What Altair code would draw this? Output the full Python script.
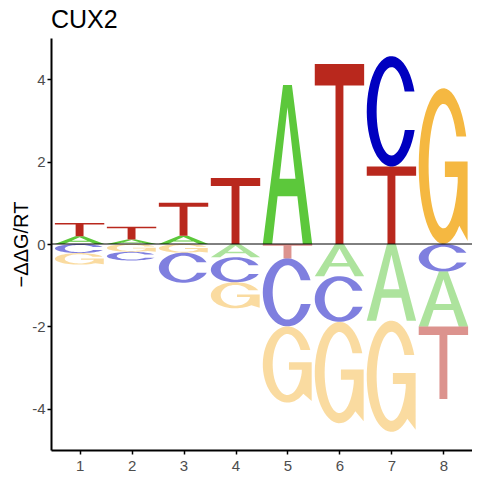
import math
import altair as alt
import pandas as pd

# ---- data ----
positions = [1, 2, 3, 4, 5, 6, 7, 8]
val_A = [0.19, 0.11, 0.20, -0.32, 3.86, -0.78, -1.86, -1.33]
val_C = [-0.22, -0.21, -0.73, -0.61, -1.65, -1.11, 2.68, -0.67]
val_G = [-0.28, -0.19, -0.21, -0.63, -1.85, -2.46, -2.70, 3.78]
val_T = [0.32, 0.31, 0.80, 1.60, -0.35, 4.37, 1.88, -1.76]
letters = ["A", "C", "G", "T"]
letter_colors = ["#5cc83b", "#0000c0", "#f5b841", "#b9281d"]
y_ticks = [-4, -2, 0, 2, 4]
title_text = "CUX2"
y_title = "\u2212\u0394\u0394G/RT"

LETTER_W = 0.95


# ---- glyph outlines in a unit box (shape templates, not data) ----
def arc(cx, cy, rx, ry, a0, a1, n=48):
    pts = []
    for k in range(n + 1):
        a = math.radians(a0 + (a1 - a0) * k / n)
        pts.append((cx + rx * math.cos(a), cy + ry * math.sin(a)))
    return pts


def glyph_T():
    return [(0, 1), (1, 1), (1, 0.88), (0.58, 0.88), (0.58, 0), (0.42, 0),
            (0.42, 0.88), (0, 0.88)]


def glyph_A():
    return [(0, 0), (0.41, 1), (0.59, 1), (1, 0), (0.81, 0), (0.70, 0.30),
            (0.662, 0.41), (0.5, 0.86), (0.338, 0.41), (0.662, 0.41),
            (0.70, 0.30), (0.30, 0.30), (0.19, 0)]


def glyph_C():
    ot = math.degrees(math.asin((0.68 - 0.5) / 0.5))
    ob = 360 + math.degrees(math.asin((0.33 - 0.5) / 0.5))
    it = math.degrees(math.asin((0.68 - 0.5) / 0.4))
    ib = 360 + math.degrees(math.asin((0.33 - 0.5) / 0.4))
    return arc(0.5, 0.5, 0.5, 0.5, ot, ob) + arc(0.5, 0.5, 0.3, 0.4, ib, it)


def glyph_G():
    ot = math.degrees(math.asin((0.69 - 0.5) / 0.5))
    it = math.degrees(math.asin((0.69 - 0.5) / 0.4))
    ib = 360 - math.degrees(math.acos((0.79 - 0.5) / 0.3))
    pts = arc(0.5, 0.5, 0.5, 0.5, ot, 310)
    pts += [(0.99, 0.02), (0.99, 0.53), (0.53, 0.53), (0.53, 0.43), (0.79, 0.43)]
    pts += arc(0.5, 0.5, 0.3, 0.4, ib, it)
    return pts


glyphs = {"A": glyph_A(), "C": glyph_C(), "G": glyph_G(), "T": glyph_T()}
values = {"A": val_A, "C": val_C, "G": val_G, "T": val_T}
colors = dict(zip(letters, letter_colors))

rows = []
gid = 0
for i, p in enumerate(positions):
    entries = [(l, values[l][i]) for l in letters]
    pos = sorted([e for e in entries if e[1] > 0], key=lambda e: e[1])
    neg = sorted([e for e in entries if e[1] < 0], key=lambda e: -e[1])
    stacks = []
    base = 0.0
    for l, v in pos:
        stacks.append((l, base, v, 1.0))
        base += v
    base = 0.0
    for l, v in neg:
        stacks.append((l, base + v, -v, 0.5))
        base += v
    for l, y0, h, op in stacks:
        for k, (u, w) in enumerate(glyphs[l]):
            rows.append({
                "id": gid, "o": k,
                "x": p - LETTER_W / 2 + u * LETTER_W,
                "y": y0 + w * h,
                "col": colors[l], "op": op,
            })
        gid += 1

df = pd.DataFrame(rows)

FONT = "Liberation Sans"

letters_layer = alt.Chart(df).mark_line(filled=True, strokeWidth=0, clip=True).encode(
    x=alt.X("x:Q", scale=alt.Scale(domain=[0.45, 8.55], nice=False, zero=False),
            axis=alt.Axis(values=positions, title=None, labelExpr="toString(datum.value)")),
    y=alt.Y("y:Q", scale=alt.Scale(domain=[-5, 5], nice=False, zero=False),
            axis=alt.Axis(values=y_ticks, title=y_title, labelExpr="toString(datum.value)")),
    detail="id:N",
    order="o:Q",
    color=alt.Color("col:N", scale=None),
    opacity=alt.Opacity("op:Q", scale=None),
)

zero_rule = alt.Chart(pd.DataFrame({"z": [0]})).mark_rule(
    color="black", strokeWidth=1).encode(y="z:Q")

chart = alt.layer(letters_layer, zero_rule).properties(
    width=421, height=412,
    title=alt.TitleParams(title_text, anchor="start", frame="group", fontSize=25,
                          font=FONT, fontWeight="normal", color="black", offset=5),
    autosize="none",
    padding={"left": 43, "top": 30, "right": 0, "bottom": 22},
).configure_view(stroke=None).configure_axis(
    grid=False, domainColor="black", domainWidth=2, tickColor="black",
    tickWidth=1.5, tickSize=4, labelFont=FONT, labelFontSize=15,
    labelColor="#4d4d4d", titleFont=FONT, titleFontSize=20,
    titleFontWeight="normal", titleColor="black", labelPadding=2,
).configure_axisY(titlePadding=0).configure_axisX(labelPadding=4)

chart.save("out.html", embed_options={"renderer": "svg", "actions": False})
